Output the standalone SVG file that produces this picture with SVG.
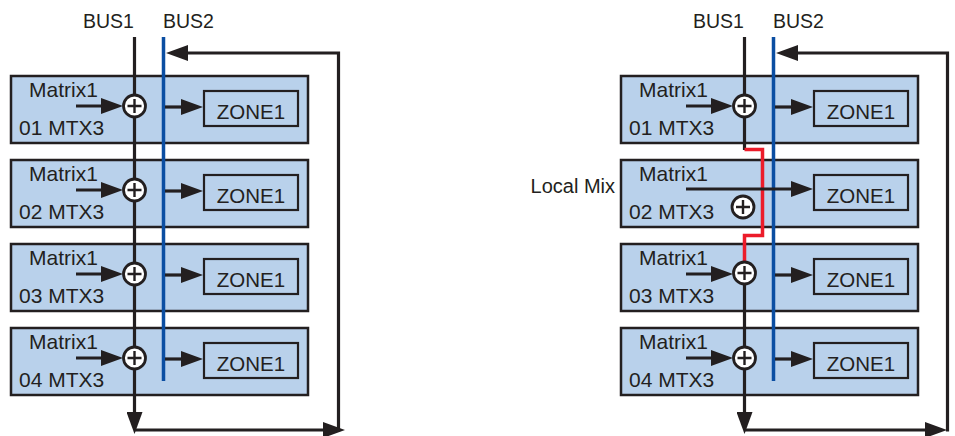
<svg xmlns="http://www.w3.org/2000/svg" xmlns:xlink="http://www.w3.org/1999/xlink" width="955" height="436" viewBox="0 0 955 436">
<style>
  .box{fill:#b9d1eb;stroke:#231f20;stroke-width:2.5}
  .zone{fill:none;stroke:#231f20;stroke-width:2.2}
  .t{font-family:"Liberation Sans",Arial,sans-serif;font-size:21px;fill:#231f20}
  .z{font-size:20.5px}
  .bl{font-size:19.5px}
  .lm{font-size:20px}
  .ln{fill:none;stroke:#231f20;stroke-width:3.2;stroke-linejoin:miter}
  .bus2{fill:none;stroke:#0b4ea2;stroke-width:3.5}
  .red{fill:none;stroke:#ec1c2a;stroke-width:3.5;stroke-linejoin:miter}
  .sum{fill:#ffffff;stroke:#231f20;stroke-width:2.8}
  .plus{stroke:#231f20;stroke-width:2.4}
</style>
<defs>
  <marker id="ah" viewBox="0 0 22 16" refX="14" refY="8" markerWidth="22" markerHeight="16" markerUnits="userSpaceOnUse" orient="auto">
    <path d="M0 0 L22 8 L0 16 Z" fill="#231f20"/>
  </marker>
  <g id="sum">
    <circle r="11" class="sum"/>
    <path d="M-7 0 H7 M0 -7 V7" class="plus"/>
  </g>
</defs>

<!-- LEFT PANEL -->
<g id="left-labels">
  <text class="t bl" x="83" y="28">BUS1</text>
  <text class="t bl" x="163" y="28">BUS2</text>
</g>
<g id="L1">
  <rect class="box" x="11" y="76" width="297" height="67"/>
  <text class="t" x="29" y="97">Matrix1</text>
  <text class="t" x="19" y="135">01 MTX3</text>
  <rect class="zone" x="204" y="91" width="94" height="35"/>
  <text class="t z" x="251" y="119" text-anchor="middle">ZONE1</text>
</g>
<g id="L2">
  <rect class="box" x="11" y="160" width="297" height="67"/>
  <text class="t" x="29" y="181">Matrix1</text>
  <text class="t" x="19" y="219">02 MTX3</text>
  <rect class="zone" x="204" y="175" width="94" height="35"/>
  <text class="t z" x="251" y="203" text-anchor="middle">ZONE1</text>
</g>
<g id="L3">
  <rect class="box" x="11" y="244" width="297" height="67"/>
  <text class="t" x="29" y="265">Matrix1</text>
  <text class="t" x="19" y="303">03 MTX3</text>
  <rect class="zone" x="204" y="259" width="94" height="35"/>
  <text class="t z" x="251" y="287" text-anchor="middle">ZONE1</text>
</g>
<g id="L4">
  <rect class="box" x="11" y="328" width="297" height="67"/>
  <text class="t" x="29" y="349">Matrix1</text>
  <text class="t" x="19" y="387">04 MTX3</text>
  <rect class="zone" x="204" y="343" width="94" height="35"/>
  <text class="t z" x="251" y="371" text-anchor="middle">ZONE1</text>
</g>

<!-- RIGHT PANEL -->
<g id="right-labels">
  <text class="t bl" x="693" y="28">BUS1</text>
  <text class="t bl" x="773" y="28">BUS2</text>
  <text class="t lm" x="615" y="193" text-anchor="end">Local Mix</text>
</g>
<g id="R1">
  <rect class="box" x="621" y="76" width="297" height="67"/>
  <text class="t" x="639" y="97">Matrix1</text>
  <text class="t" x="629" y="135">01 MTX3</text>
  <rect class="zone" x="814" y="91" width="94" height="35"/>
  <text class="t z" x="861" y="119" text-anchor="middle">ZONE1</text>
</g>
<g id="R2">
  <rect class="box" x="621" y="160" width="297" height="67"/>
  <text class="t" x="639" y="181">Matrix1</text>
  <text class="t" x="629" y="219">02 MTX3</text>
  <rect class="zone" x="814" y="175" width="94" height="35"/>
  <text class="t z" x="861" y="203" text-anchor="middle">ZONE1</text>
</g>
<g id="R3">
  <rect class="box" x="621" y="244" width="297" height="67"/>
  <text class="t" x="639" y="265">Matrix1</text>
  <text class="t" x="629" y="303">03 MTX3</text>
  <rect class="zone" x="814" y="259" width="94" height="35"/>
  <text class="t z" x="861" y="287" text-anchor="middle">ZONE1</text>
</g>
<g id="R4">
  <rect class="box" x="621" y="328" width="297" height="67"/>
  <text class="t" x="639" y="349">Matrix1</text>
  <text class="t" x="629" y="387">04 MTX3</text>
  <rect class="zone" x="814" y="343" width="94" height="35"/>
  <text class="t z" x="861" y="371" text-anchor="middle">ZONE1</text>
</g>

<g id="connectors">
  <!-- left buses -->
  <path class="bus2" d="M163.5 37 V381"/>
  <path class="ln" d="M134.5 37 V426" marker-end="url(#ah)"/>
  <path class="ln" d="M134.5 430 H337" marker-end="url(#ah)"/>
  <path class="ln" d="M338.5 431.5 V53 H174" marker-end="url(#ah)"/>
  <!-- left matrix inputs -->
  <path class="ln" d="M76 106 H115" marker-end="url(#ah)"/>
  <path class="ln" d="M76 190 H115" marker-end="url(#ah)"/>
  <path class="ln" d="M76 274 H115" marker-end="url(#ah)"/>
  <path class="ln" d="M76 358 H115" marker-end="url(#ah)"/>
  <!-- left bus2 to zones -->
  <path class="ln" d="M165 107 H195" marker-end="url(#ah)"/>
  <path class="ln" d="M165 191 H195" marker-end="url(#ah)"/>
  <path class="ln" d="M165 275 H195" marker-end="url(#ah)"/>
  <path class="ln" d="M165 359 H195" marker-end="url(#ah)"/>

  <!-- right buses -->
  <path class="bus2" d="M773.5 37 V381"/>
  <path class="ln" d="M744.5 37 V150"/>
  <path class="red" d="M744.5 149.5 H762.5 V235.5 H744.5 V262"/>
  <path class="ln" d="M744.5 284 V426" marker-end="url(#ah)"/>
  <path class="ln" d="M744.5 430 H939" marker-end="url(#ah)"/>
  <path class="ln" d="M947.5 431.5 V53 H784" marker-end="url(#ah)"/>
  <!-- right matrix inputs -->
  <path class="ln" d="M686 106 H725" marker-end="url(#ah)"/>
  <path class="ln" d="M686 189 H805" marker-end="url(#ah)"/>
  <path class="ln" d="M686 274 H725" marker-end="url(#ah)"/>
  <path class="ln" d="M686 358 H725" marker-end="url(#ah)"/>
  <!-- right bus2 to zones -->
  <path class="ln" d="M775 107 H805" marker-end="url(#ah)"/>
  <path class="ln" d="M775 275 H805" marker-end="url(#ah)"/>
  <path class="ln" d="M775 359 H805" marker-end="url(#ah)"/>
</g>

<g id="sums">
  <use xlink:href="#sum" x="134.5" y="106"/>
  <use xlink:href="#sum" x="134.5" y="190"/>
  <use xlink:href="#sum" x="134.5" y="274"/>
  <use xlink:href="#sum" x="134.5" y="358"/>
  <use xlink:href="#sum" x="744.5" y="106"/>
  <use xlink:href="#sum" x="743" y="207"/>
  <use xlink:href="#sum" x="744.5" y="273"/>
  <use xlink:href="#sum" x="744.5" y="358"/>
</g>
</svg>
